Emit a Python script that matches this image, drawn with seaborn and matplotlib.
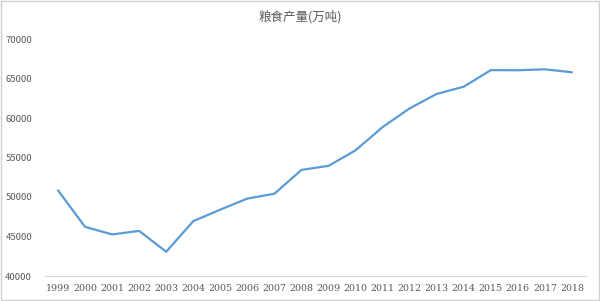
import matplotlib
matplotlib.use("Agg")
import matplotlib.pyplot as plt
import seaborn as sns
import pandas as pd
from matplotlib.patches import Rectangle

years = ["1999","2000","2001","2002","2003","2004","2005","2006","2007","2008",
         "2009","2010","2011","2012","2013","2014","2015","2016","2017","2018"]
output = [50839, 46218, 45264, 45706, 43070, 46947, 48402, 49804, 50414, 53434,
          53941, 55911, 58849, 61223, 63048, 63965, 66060, 66044, 66161, 65789]
yticks = [40000, 45000, 50000, 55000, 60000, 65000, 70000]
title = "粮食产量(万吨)"

sns.set_theme(style="white")
plt.rcParams['font.family'] = ['Noto Sans CJK SC', 'DejaVu Sans']

df = pd.DataFrame({"year": years, "value": output})
df["pos"] = range(len(years))

fig = plt.figure(figsize=(6, 3.01), dpi=100)
ax = fig.add_axes([44.5/600, 25/301, 541/600, 237/301])
sns.lineplot(data=df, x="pos", y="value", ax=ax, color="#5B9BD5", linewidth=1.6)
ax.set_xlim(-0.5, len(years) - 0.5)
ax.set_ylim(40000, 70000)
ax.set_xticks(df["pos"])
ax.set_xticklabels(years, family=['DejaVu Serif'], fontsize=6.8, color="#595959")
ax.set_yticks(yticks)
ax.set_yticklabels([str(v) for v in yticks], fontsize=6.8, color="#595959")
ax.tick_params(axis='x', length=0, pad=6)
ax.tick_params(axis='y', length=0, pad=9)
for s in ["top", "right", "left"]:
    ax.spines[s].set_visible(False)
ax.spines["bottom"].set_color("#D9D9D9")
ax.spines["bottom"].set_linewidth(0.8)
ax.set_xlabel("")
ax.set_ylabel("")
fig.text(0.5, 1 - 17/301, title, ha="center", va="center", fontsize=9, color="#595959")
fig.patches.append(Rectangle((0.002, 0.003), 0.996, 0.994, transform=fig.transFigure,
                             fill=False, edgecolor="#D0D0D0", linewidth=1))
fig.savefig("out.png", dpi=100)
